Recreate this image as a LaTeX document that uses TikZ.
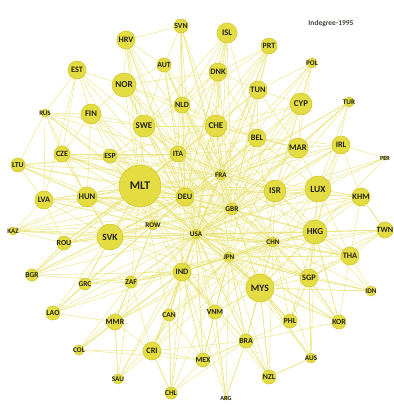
\documentclass[tikz,border=0pt]{standalone}
\usepackage{fontspec}
\setmainfont{Carlito}
\usetikzlibrary{backgrounds}

\definecolor{nodefill}{RGB}{227,220,66}
\definecolor{nodeline}{RGB}{210,201,45}
\definecolor{linkcol}{RGB}{233,227,118}
\definecolor{labelcol}{RGB}{35,35,25}

\begin{document}
\begin{tikzpicture}[x=1pt, y=-1pt,
    country/.style={circle, fill=nodefill, draw=nodeline, line width=0.6pt,
        inner sep=0pt},
    link/.style={draw=linkcol, line width=0.55pt, opacity=0.8}]
    \useasboundingbox (0,0) rectangle (394,405);

    % countries: name / x / y / radius
    \foreach \n/\x/\y/\r in {
        SVN/181/26/7, HRV/126/40/9, AUT/164/65/7, EST/77/70/9, NOR/124/85/12,
        NLD/182/105/8, RUS/45/113/4, FIN/91/114/10, SWE/144/126/11,
        ISL/227/33/10, PRT/269/46/8, POL/312/63/5, DNK/218/72/9, TUN/258/90/9,
        CYP/301/104/11, TUR/349/102/5, CHE/216/126/11, CZE/62/154/8,
        ESP/110/156/7, ITA/178/154/8, LTU/18/165/7, MLT/140/186/21,
        DEU/185/197/9, LVA/44/200/9, HUN/87/197/10, ROW/153/225/5,
        KAZ/13/231/4, SVK/110/237/13, ROU/64/243/7, USA/196/234/5,
        BEL/257/138/9, MAR/298/148/10, IRL/341/145/9, PER/385/158/2,
        FRA/221/175/5, ISR/275/191/11, LUX/318/189/13, KHM/361/197/9,
        GBR/232/209/6, HKG/315/232/12, TWN/385/230/8, CHN/273/242/5,
        JPN/229/257/5, THA/350/256/9, BGR/32/275/6, IND/182/272/9,
        GRC/85/284/6, ZAF/131/282/6, LAO/53/313/7, CAN/169/315/6,
        MMR/115/322/8, COL/79/350/5, CRI/152/351/9, SAU/118/379/5,
        CHL/171/393/6, MYS/260/288/14, SGP/309/278/9, IDN/371/291/5,
        VNM/215/312/7, PHL/290/321/7, KOR/339/322/7, BRA/246/341/7,
        MEX/203/360/7, AUS/311/358/5, NZL/269/377/7, ARG/226/398/2}
    {
        \pgfmathsetmacro\fs{5.7+0.29*\r}
        \node[country, minimum size=2*\r pt,
            label={[inner sep=0pt, text=labelcol,
                font=\fontsize{\fs}{\fs}\selectfont\bfseries]center:\n}]
            (\n) at (\x,\y) {};
    }

    \node[font=\fontsize{7.5}{7.5}\selectfont\bfseries, text=labelcol!85]
        (title) at (331,24) {Indegree-1995};

    % links
    \begin{pgfonlayer}{background}
    \foreach \a/\bs in {
        SVN/{HRV,NLD,DEU,ITA,FRA,CHE,GBR,USA,AUT},
        HRV/{AUT,NOR,SWE,DEU,ITA,MLT,FRA,USA,ROW},
        AUT/{NOR,SWE,DEU,ITA,CHE,FRA,GBR,USA,NLD},
        EST/{NOR,FIN,RUS,SWE,MLT,DEU,LVA,CZE},
        NOR/{SWE,FIN,DEU,GBR,USA,FRA,MLT,NLD,CHE,ITA},
        NLD/{SWE,DEU,GBR,FRA,USA,CHE,ITA,JPN,CHN,BEL},
        RUS/{FIN,LTU,CZE,MLT,DEU,ITA,USA,SWE,HUN,LVA},
        FIN/{SWE,MLT,DEU,GBR,USA,ESP,HUN,CZE},
        SWE/{MLT,DEU,GBR,USA,FRA,ITA,CHE,CHN,JPN,ISR},
        ISL/{DNK,CHE,NLD,DEU,GBR,USA,FRA,SWE,ITA,BEL},
        PRT/{DNK,TUN,CHE,FRA,GBR,DEU,USA,ESP,ITA},
        POL/{CYP,TUN,MAR,ISR,DEU,GBR,FRA},
        DNK/{NLD,CHE,DEU,GBR,FRA,USA,ITA,SWE,NOR,TUN,BEL},
        TUN/{CHE,FRA,ITA,DEU,BEL,MAR,GBR,USA},
        CYP/{MAR,GBR,FRA,DEU,ISR,USA,ITA,CHE,TUN,JPN},
        TUR/{LUX,ISR,MAR,DEU,GBR,HKG,FRA,USA},
        CHE/{ITA,DEU,FRA,GBR,USA,BEL,JPN,CHN,MLT,ISR},
        CZE/{MLT,DEU,HUN,ITA,FRA,USA,GBR,SVK,ESP},
        ESP/{MLT,DEU,ITA,FRA,GBR,USA,ROW,CHE},
        ITA/{MLT,DEU,FRA,GBR,USA,JPN,CHN,ROW,ISR,IND},
        LTU/{LVA,MLT,DEU,HUN,ESP,USA,ROW,FRA,ITA},
        MLT/{DEU,USA,GBR,FRA,JPN,CHN,ROW,IND,ISR,HKG,SVK,HUN,LUX,MYS,
            ITA,ESP,CZE,LVA,ROU,BGR,GRC,ZAF,CAN,VNM,THA,SGP,KHM},
        DEU/{FRA,GBR,USA,JPN,CHN,ROW,ISR,LUX,HKG,MYS,IND,BEL,MAR},
        LVA/{HUN,MLT,DEU,ROW,USA,SVK,ROU,GBR},
        HUN/{MLT,DEU,ROW,USA,ITA,SVK,GBR,FRA,CHN},
        ROW/{USA,GBR,DEU,JPN,CHN,SVK,IND,FRA},
        KAZ/{SVK,ROW,USA,DEU,MLT,HUN,GBR,CHN,LVA,ROU},
        SVK/{DEU,USA,ROW,GBR,FRA,JPN,CHN,IND,ITA,ROU,HUN,MYS,HKG},
        ROU/{SVK,MLT,DEU,USA,ROW,ITA,GBR,BGR},
        USA/{GBR,JPN,CHN,FRA,IND,MYS,HKG,ISR,LUX,SGP,THA,BRA,MEX,CAN},
        BEL/{FRA,GBR,DEU,USA,ISR,MAR,LUX,ITA,CHN,JPN},
        MAR/{FRA,ISR,LUX,GBR,DEU,USA,ITA,BEL,CHE},
        IRL/{LUX,GBR,USA,ISR,FRA,DEU,HKG,MAR,BEL,KHM},
        PER/{LUX,IRL,ISR,USA,HKG},
        FRA/{GBR,USA,JPN,CHN,ISR,LUX,HKG,MYS,IND},
        ISR/{LUX,GBR,USA,HKG,FRA,CHN,JPN,MYS,ITA,THA,SGP},
        LUX/{HKG,GBR,KHM,USA,CHN,JPN,THA,SGP,MYS},
        KHM/{HKG,LUX,TWN,THA,USA,CHN,JPN,GBR,ISR},
        GBR/{USA,JPN,CHN,IND,HKG,MYS,SGP},
        HKG/{CHN,JPN,USA,MYS,SGP,THA,TWN,KOR,IND},
        TWN/{HKG,KHM,THA,CHN,JPN,USA,SGP,MYS},
        CHN/{JPN,USA,MYS,HKG,SGP,IND,THA},
        JPN/{USA,MYS,IND,SGP,THA,VNM,BRA},
        THA/{HKG,MYS,SGP,JPN,CHN,USA,KOR},
        BGR/{ROU,SVK,ROW,USA,DEU,IND,MLT,ZAF},
        IND/{USA,JPN,CHN,MYS,ZAF,CAN,CRI,MMR,VNM,BRA,MEX},
        GRC/{LAO,SVK,ROW,USA,DEU,IND,ZAF,JPN},
        ZAF/{IND,USA,ROW,JPN,CHN,MMR,CRI,GBR},
        LAO/{GRC,MMR,ZAF,IND,USA,ROW,SVK},
        CAN/{IND,USA,JPN,CRI,CHL,MEX,CHN},
        MMR/{IND,ZAF,USA,JPN,CHN,CRI,COL,SAU,ROW},
        COL/{CRI,MMR,ZAF,IND,USA,MEX},
        CRI/{IND,USA,JPN,CHN,CHL,MEX,BRA,CAN},
        SAU/{MMR,ZAF,IND,USA,CRI,JPN},
        CHL/{CRI,CAN,IND,USA,JPN,MEX,BRA},
        MYS/{SGP,JPN,USA,CHN,HKG,IDN,AUS,NZL,BRA,PHL,KOR,VNM},
        SGP/{IDN,KOR,AUS,HKG,CHN,JPN,USA,PHL,THA},
        IDN/{SGP,MYS,HKG,THA,JPN,CHN},
        VNM/{IND,JPN,USA,CHN,MEX,ARG,MYS},
        PHL/{MYS,JPN,USA,CHN,HKG,SGP,BRA},
        KOR/{SGP,BRA,HKG,MYS,JPN,CHN,USA},
        BRA/{USA,JPN,CHN,IND,MYS,NZL,ARG,MEX},
        MEX/{USA,IND,JPN,CHN,VNM,BRA},
        AUS/{NZL,SGP,MYS,HKG,JPN,CHN},
        NZL/{AUS,BRA,MYS,JPN,USA,CHN,IND},
        ARG/{BRA,VNM,USA,JPN,IND}}
    {
        \foreach \b in \bs
            \draw[link] (\a) -- (\b);
    }
    \end{pgfonlayer}
\end{tikzpicture}
\end{document}
